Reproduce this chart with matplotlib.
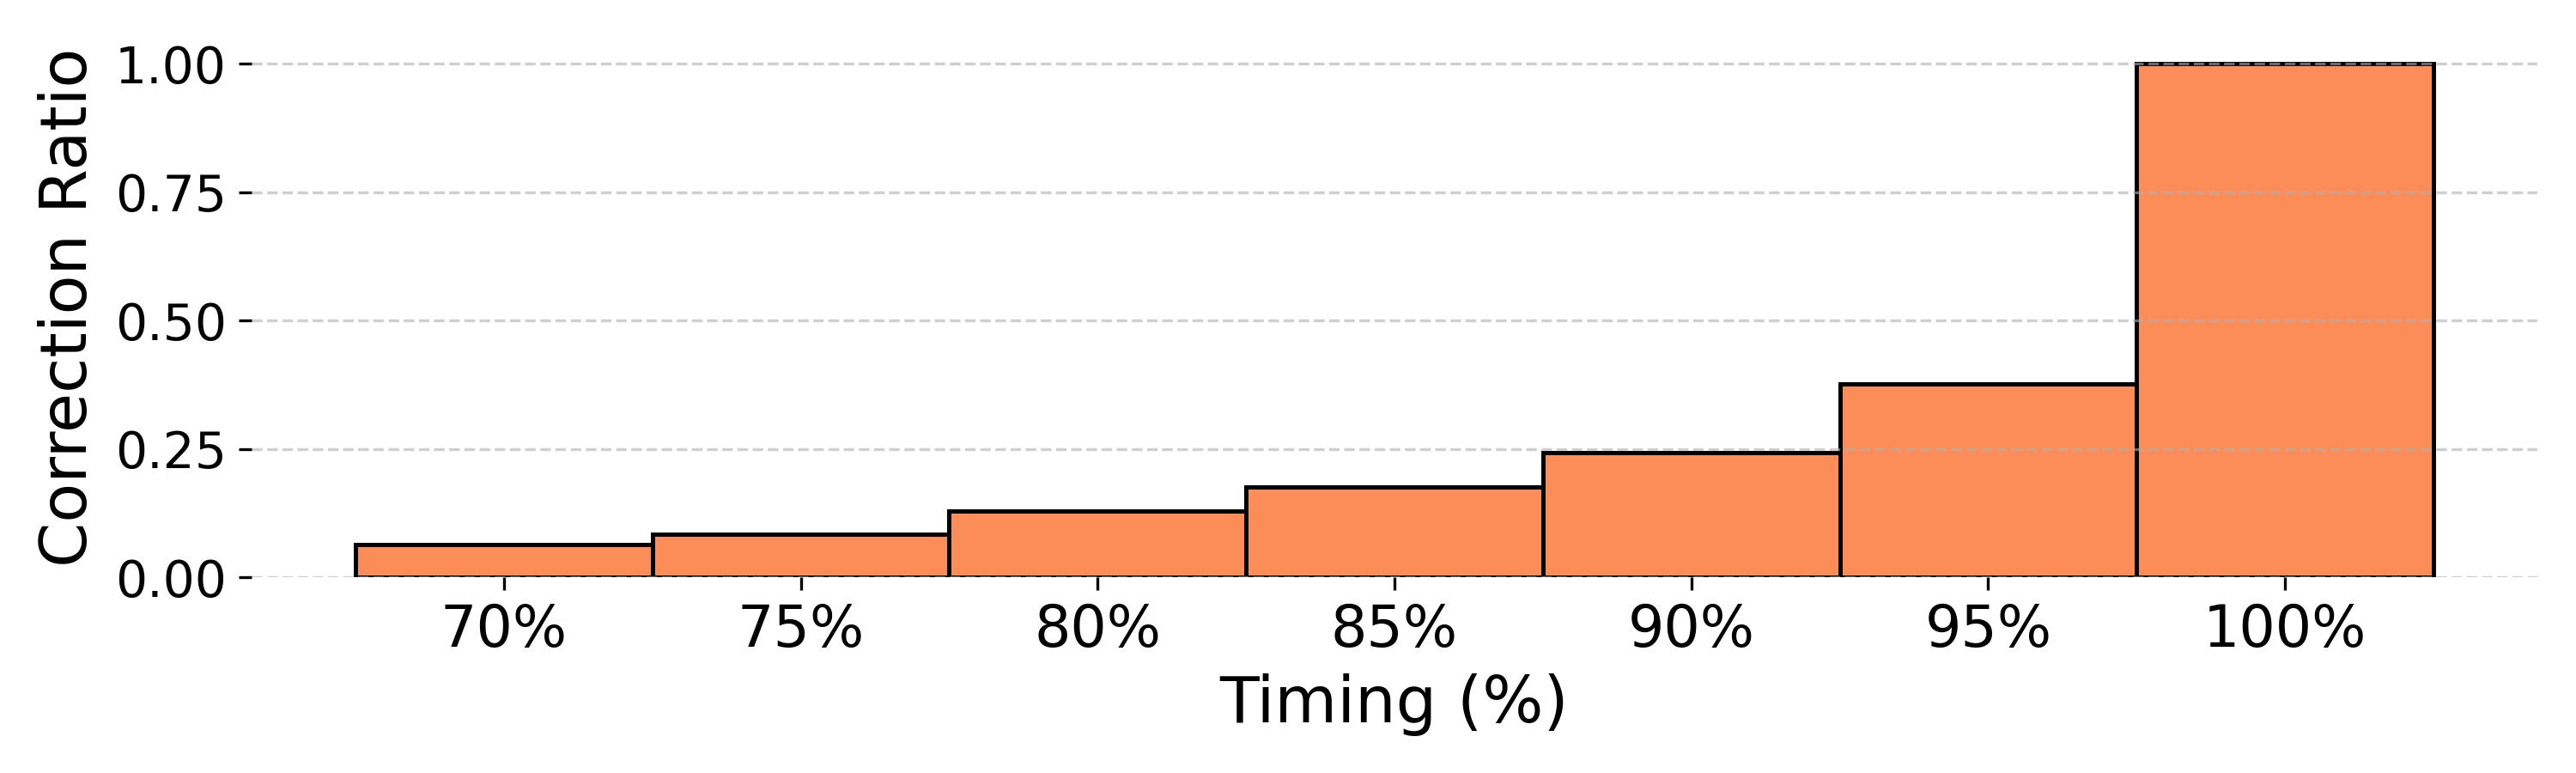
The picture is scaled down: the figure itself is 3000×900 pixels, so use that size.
import matplotlib
matplotlib.use("Agg")
import matplotlib.pyplot as plt
import numpy as np

timing_labels = ["70%", "75%", "80%", "85%", "90%", "95%", "100%"]
correction_ratio = [0.064, 0.084, 0.129, 0.176, 0.243, 0.376, 1.0]
y_ticks = [0.0, 0.25, 0.5, 0.75, 1.0]

fig = plt.figure(figsize=(10, 3), dpi=300)
ax = fig.add_axes([0.0977, 0.2533, 0.985 - 0.0977, 0.9507 - 0.2533])

x = np.arange(len(timing_labels))
ax.bar(x, correction_ratio, width=1.0, color="#fc8d59", edgecolor="black", linewidth=1.2)

ax.set_xticks(x)
ax.set_xticklabels(timing_labels, fontsize=16)
ax.set_yticks(y_ticks)
ax.set_yticklabels([f"{v:.2f}" for v in y_ticks], fontsize=14)
ax.set_xlabel("Timing (%)", fontsize=18)
ax.set_ylabel("Correction Ratio", fontsize=18)

ax.yaxis.grid(True, linestyle="--", color="#b0b0b0", alpha=0.6, linewidth=0.8)
ax.xaxis.grid(False)
for s in ax.spines.values():
    s.set_visible(False)

fig.savefig("out.png", dpi=300)
